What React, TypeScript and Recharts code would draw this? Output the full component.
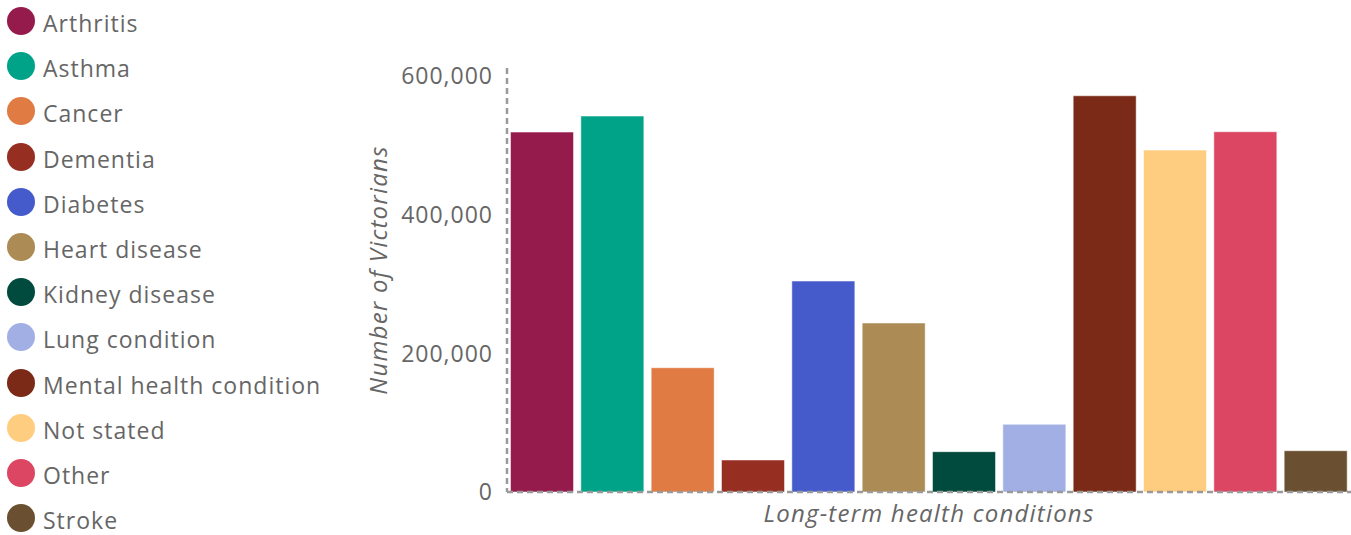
import React from 'react';
import { BarChart, Bar, Cell, XAxis, YAxis, Legend } from 'recharts';

const conditions = [
  'Arthritis',
  'Asthma',
  'Cancer',
  'Dementia',
  'Diabetes',
  'Heart disease',
  'Kidney disease',
  'Lung condition',
  'Mental health condition',
  'Not stated',
  'Other',
  'Stroke',
];

const victorians = [
  519500, 542600, 179400, 46200, 304500, 243900, 58200, 97700, 571900, 493500, 520000, 59600,
];

const colors = [
  '#951b4d',
  '#00a387',
  '#e07b43',
  '#962e21',
  '#465bcb',
  '#ac8b55',
  '#004b3d',
  '#a1afe4',
  '#7a2a16',
  '#ffcd80',
  '#dc4663',
  '#6a5030',
];

const yTicks = [0, 200000, 400000, 600000];

const data = conditions.map((name, i) => ({ name, value: victorians[i] }));

const FONT = '"Open Sans", "DejaVu Sans", sans-serif';
const TEXT = '#666';
const AXIS = { stroke: '#9a9a9a', strokeWidth: 2.5, strokeDasharray: '6 4' };
const TITLE = { fontFamily: FONT, fontSize: 24, fontStyle: 'italic', fill: TEXT, letterSpacing: 1.2 };

function ConditionLegend() {
  return (
    <div style={{ position: 'absolute', left: 7, top: -1.6 }}>
      {conditions.map((name, i) => (
        <div
          key={name}
          style={{
            display: 'flex',
            alignItems: 'center',
            height: 45.2,
            fontFamily: FONT,
            fontSize: 23,
            letterSpacing: 1,
            color: TEXT,
            whiteSpace: 'nowrap',
          }}
        >
          <span
            style={{
              display: 'inline-block',
              width: 28,
              height: 28,
              borderRadius: '50%',
              background: colors[i],
              marginRight: 8,
              flexShrink: 0,
            }}
          />
          <span style={{ position: 'relative', top: 2 }}>{name}</span>
        </div>
      ))}
    </div>
  );
}

export default function App() {
  return (
    <div style={{ position: 'absolute', left: 0, top: 0, width: 1351, height: 535, overflow: 'hidden' }}>
      <BarChart
        width={1351}
        height={535}
        data={data}
        margin={{ top: 68, right: 0, bottom: 0, left: 367 }}
        barCategoryGap="5%"
      >
        <XAxis
          dataKey="name"
          tick={false}
          tickLine={false}
          height={43}
          axisLine={AXIS}
          label={{
            value: 'Long-term health conditions',
            position: 'insideBottom',
            offset: 13,
            style: TITLE,
          }}
        />
        <YAxis
          width={140}
          domain={[0, 612000]}
          ticks={yTicks}
          interval={0}
          tickLine={false}
          tickSize={0}
          tickMargin={14}
          tickFormatter={(v: number) => v.toLocaleString('en-US')}
          tick={{ fontFamily: FONT, fontSize: 23, fill: TEXT, letterSpacing: 1 }}
          axisLine={AXIS}
          label={{
            value: 'Number of Victorians',
            angle: -90,
            position: 'center',
            dx: -59,
            dy: -10,
            style: TITLE,
          }}
        />
        <Legend content={() => null} />
        <Bar dataKey="value" isAnimationActive={false} stroke="#fff" strokeOpacity={0.5} strokeWidth={1}>
          {data.map((d, i) => (
            <Cell key={d.name} fill={colors[i]} />
          ))}
        </Bar>
      </BarChart>
      <ConditionLegend />
    </div>
  );
}
